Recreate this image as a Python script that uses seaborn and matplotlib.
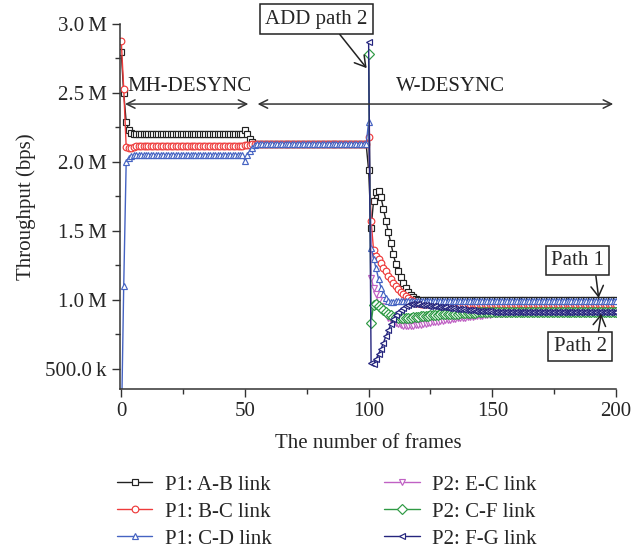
import matplotlib
matplotlib.use("Agg")
import matplotlib.pyplot as plt
from matplotlib.ticker import MultipleLocator
import pandas as pd
import seaborn as sns

# ---- data (throughput in Mbps, one sample per frame) ----
frames_p1 = list(range(0, 201))
frames_p2 = list(range(100, 201))

ab_link = ([2.80, 2.50, 2.29, 2.23, 2.21] + [2.205] * 45 +
           [2.235, 2.20, 2.17, 2.145, 2.13] + [2.13] * 45 +
           [1.94, 1.52, 1.72, 1.78, 1.79, 1.745, 1.66, 1.575, 1.49, 1.41, 1.33,
            1.26, 1.21, 1.165, 1.12, 1.09, 1.055, 1.035, 1.02, 1.01, 1.003] +
           [1.0] * 80)

bc_link = ([2.88, 2.53, 2.11, 2.10, 2.105, 2.11] + [2.115] * 44 +
           [2.12, 2.122, 2.126, 2.13, 2.13] + [2.13] * 45 +
           [2.18, 1.575, 1.36, 1.32, 1.30, 1.27, 1.235, 1.21, 1.175, 1.15, 1.125,
            1.10, 1.08, 1.06, 1.045, 1.03, 1.015, 1.0, 0.99, 0.98, 0.975] +
           [0.97] * 80)

cd_link = ([0.0, 1.10, 2.00, 2.03, 2.04] + [2.048] * 45 +
           [2.01, 2.05, 2.08, 2.105, 2.12] + [2.13] * 45 +
           [2.29, 1.38, 1.30, 1.23, 1.155, 1.09, 1.045, 1.015, 0.995, 0.985, 0.985] +
           [0.99] * 90)

ec_link = ([2.77, 1.16, 1.09, 1.04, 1.00, 0.96, 0.925, 0.895, 0.87, 0.855, 0.84,
            0.83, 0.823, 0.818, 0.815, 0.813, 0.813, 0.814, 0.815, 0.817, 0.819] +
           [0.822, 0.825, 0.828, 0.831, 0.834, 0.837, 0.840, 0.843, 0.846, 0.849,
            0.852, 0.855, 0.858, 0.861, 0.864, 0.867, 0.869, 0.871, 0.873, 0.875,
            0.877, 0.879, 0.881, 0.883, 0.885, 0.887, 0.889, 0.891, 0.893, 0.895,
            0.897, 0.898, 0.899, 0.900, 0.901, 0.902, 0.903, 0.904, 0.905, 0.906,
            0.907, 0.908, 0.909, 0.910, 0.911, 0.911, 0.912, 0.912, 0.913, 0.913] +
           [0.914] * 10 + [0.915] * 20)

cf_link = ([2.78, 0.835, 0.965, 0.97, 0.96, 0.945, 0.925, 0.91, 0.898, 0.888, 0.88,
            0.875, 0.872, 0.87, 0.87, 0.87, 0.871, 0.873, 0.875, 0.877, 0.879] +
           [0.881, 0.883, 0.885, 0.887, 0.889, 0.891, 0.893, 0.894, 0.895, 0.896,
            0.897, 0.898, 0.899, 0.900, 0.901, 0.902, 0.903, 0.904, 0.905, 0.906,
            0.907, 0.908, 0.909, 0.910, 0.910, 0.911, 0.911, 0.912, 0.912, 0.913,
            0.913, 0.913, 0.914, 0.914, 0.914, 0.914, 0.915, 0.915, 0.915, 0.915] +
           [0.915] * 40)

fg_link = ([2.87, 0.545, 0.535, 0.57, 0.61, 0.645, 0.69, 0.74, 0.78, 0.825, 0.86,
            0.89, 0.91, 0.93, 0.945, 0.955, 0.963, 0.968, 0.97, 0.97, 0.968] +
           [0.966, 0.964, 0.962, 0.960, 0.958, 0.956, 0.954, 0.952, 0.950, 0.948,
            0.946, 0.944, 0.942, 0.940, 0.938, 0.936, 0.934, 0.932, 0.930, 0.928,
            0.926, 0.924, 0.923, 0.922, 0.921, 0.920, 0.919, 0.918, 0.917, 0.916] +
           [0.915] * 50)

link_names = ["P1: A-B link", "P1: B-C link", "P1: C-D link",
              "P2: E-C link", "P2: C-F link", "P2: F-G link"]

y_ticks = [0.5e6, 1.0e6, 1.5e6, 2.0e6, 2.5e6, 3.0e6]
y_tick_labels = ["500.0\u2009k", "1.0\u2009M", "1.5\u2009M", "2.0\u2009M", "2.5\u2009M", "3.0\u2009M"]
x_ticks = [0, 50, 100, 150, 200]

# ---- long-form table ----
series = [(link_names[0], frames_p1, ab_link),
          (link_names[1], frames_p1, bc_link),
          (link_names[2], frames_p1, cd_link),
          (link_names[3], frames_p2, ec_link),
          (link_names[4], frames_p2, cf_link),
          (link_names[5], frames_p2, fg_link)]
rows = []
for name, xs, ys in series:
    for x, y in zip(xs, ys):
        rows.append({"frame": x, "throughput": y * 1e6, "link": name})
df = pd.DataFrame(rows)

colors = {link_names[0]: "#222222", link_names[1]: "#ee3b3b", link_names[2]: "#4563c2",
          link_names[3]: "#c061c4", link_names[4]: "#2f9a44", link_names[5]: "#25257e"}
markers = {link_names[0]: "s", link_names[1]: "o", link_names[2]: "^",
           link_names[3]: "v", link_names[4]: "D", link_names[5]: "<"}

sns.set_style("ticks")
plt.rcParams["font.family"] = ["Liberation Serif", "DejaVu Serif"]

fig = plt.figure(figsize=(6.39, 5.48), dpi=100)
ax = fig.add_axes([120 / 639, 1 - 389 / 548, 496 / 639, 365 / 548])

sns.lineplot(data=df, x="frame", y="throughput", hue="link", style="link",
             hue_order=link_names, style_order=link_names,
             palette=colors, markers=markers, dashes=False,
             estimator=None, errorbar=None, legend=False,
             linewidth=1.0, markersize=4.8, ax=ax)

for line in ax.lines:
    line.set_markerfacecolor("white")
    line.set_markeredgecolor(line.get_color())
    line.set_markeredgewidth(0.85)

ax.set_xlim(-0.5, 200)
ax.set_ylim(0.355e6, 3.0e6)
ax.set_yticks(y_ticks)
ax.set_yticklabels(y_tick_labels)
ax.set_xticks(x_ticks)
ax.xaxis.set_minor_locator(MultipleLocator(25))
ax.yaxis.set_minor_locator(MultipleLocator(0.25e6))
ax.tick_params(which="major", length=6, width=1, labelsize=15, color="#333333")
ax.tick_params(which="minor", length=3.5, width=1, color="#333333")
for s in ["left", "bottom"]:
    ax.spines[s].set_color("#333333")
    ax.spines[s].set_linewidth(1.1)
sns.despine(ax=ax)

ax.set_xlabel("The number of frames", fontsize=15, labelpad=9)
ax.set_ylabel("Throughput (bps)", fontsize=15, labelpad=7)

# ---- phase annotations ----
arrow_kw = dict(arrowstyle="<->,head_length=0.6,head_width=0.3", color="#333333", lw=1.1)
ax.annotate("", xy=(0.4, 2.42e6), xytext=(52.5, 2.42e6), arrowprops=arrow_kw)
ax.annotate("", xy=(54.0, 2.42e6), xytext=(200, 2.42e6), arrowprops=arrow_kw,
            annotation_clip=False)
ax.text(27.5, 2.545e6, "MH-DESYNC", fontsize=15, ha="center", va="center", color="#222222")
ax.text(133, 2.545e6, "W-DESYNC", fontsize=15, ha="center", va="center", color="#222222")

box_kw = dict(boxstyle="square,pad=0.25", fc="white", ec="#222222", lw=1.1)
head_kw = dict(arrowstyle="->,head_length=0.5,head_width=0.3", color="#222222", lw=1.1)

ax.annotate("ADD path 2", xy=(99.2, 2.68e6), xytext=(79, 3.036e6),
            fontsize=15, ha="center", va="center", bbox=box_kw,
            arrowprops=dict(head_kw, shrinkA=0, shrinkB=0, relpos=(0.68, 0.0)),
            annotation_clip=False)
ax.annotate("Path 1", xy=(193, 1.015e6), xytext=(184.5, 1.285e6),
            fontsize=15, ha="center", va="center", bbox=box_kw,
            arrowprops=dict(head_kw, shrinkA=0, shrinkB=0, relpos=(0.83, 0.0)))
ax.annotate("Path 2", xy=(194, 0.9e6), xytext=(185.5, 0.663e6),
            fontsize=15, ha="center", va="center", bbox=box_kw,
            arrowprops=dict(head_kw, shrinkA=0, shrinkB=0, relpos=(0.83, 1.0)))

# ---- legend ----
handles = ax.lines[:6]
fig.legend(handles, link_names, loc="upper left", ncol=2, frameon=False,
           bbox_to_anchor=(117 / 639, 1 - 475 / 548), borderpad=0, borderaxespad=0,
           fontsize=15, handlelength=1.7, handletextpad=0.6, columnspacing=5.4,
           labelspacing=0.36)

fig.savefig("out.png", dpi=100)
